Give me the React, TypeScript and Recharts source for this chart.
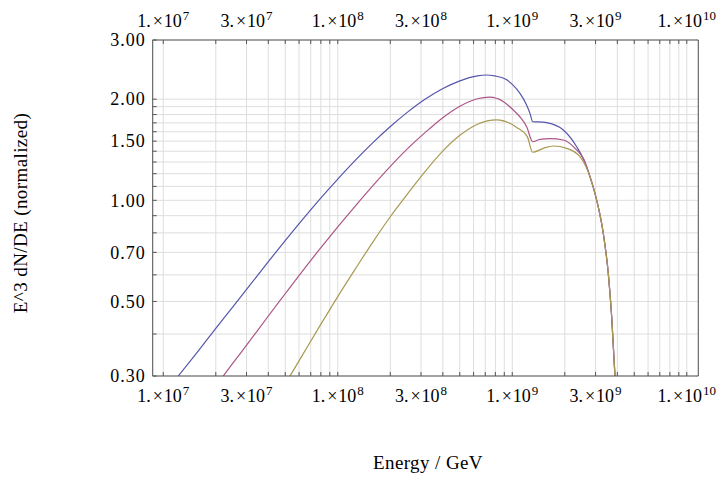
import React from 'react';
import { LineChart, Line, XAxis, YAxis, CartesianGrid, Label } from 'recharts';

// E (GeV) and E^3 dN/dE values, one pair of arrays per curve
const blueEnergy = [1.219e7, 1.585e7, 1.995e7, 2.512e7, 3.162e7, 3.981e7, 5.012e7, 6.31e7, 7.943e7, 1e8, 1.259e8, 1.585e8, 1.995e8, 2.512e8, 3.162e8, 3.981e8, 5.012e8, 6.31e8, 7.079e8, 7.943e8, 9.29e8, 1e9, 1.107e9, 1.202e9, 1.263e9, 1.309e9, 1.413e9, 1.575e9, 1.96e9, 2.339e9, 2.669e9, 2.788e9, 3.045e9, 3.322e9, 3.549e9, 3.712e9, 3.877e9];
const blueValue = [0.3, 0.356, 0.415, 0.483, 0.562, 0.655, 0.76, 0.879, 1.012, 1.157, 1.315, 1.483, 1.656, 1.83, 1.998, 2.148, 2.268, 2.345, 2.36, 2.345, 2.285, 2.213, 2.082, 1.932, 1.815, 1.713, 1.712, 1.702, 1.619, 1.444, 1.259, 1.176, 1.002, 0.798, 0.606, 0.45, 0.3];

const pinkEnergy = [2.207e7, 2.512e7, 3.162e7, 3.981e7, 5.012e7, 6.31e7, 7.943e7, 1e8, 1.259e8, 1.585e8, 1.995e8, 2.512e8, 3.162e8, 3.981e8, 5.012e8, 6.31e8, 7.413e8, 8.913e8, 1.013e9, 1.122e9, 1.209e9, 1.309e9, 1.441e9, 1.644e9, 1.96e9, 2.339e9, 2.552e9, 2.788e9, 3.045e9, 3.322e9, 3.549e9, 3.712e9, 3.877e9];
const pinkValue = [0.3, 0.328, 0.384, 0.451, 0.528, 0.618, 0.719, 0.833, 0.961, 1.104, 1.26, 1.425, 1.59, 1.759, 1.906, 2.006, 2.028, 1.966, 1.857, 1.756, 1.656, 1.494, 1.519, 1.527, 1.512, 1.412, 1.334, 1.176, 1.002, 0.798, 0.606, 0.45, 0.3];

const yellowEnergy = [5.323e7, 6.31e7, 7.943e7, 1e8, 1.259e8, 1.585e8, 1.995e8, 2.512e8, 3.162e8, 3.981e8, 5.012e8, 6.31e8, 8.128e8, 1.06e9, 1.219e9, 1.309e9, 1.506e9, 1.718e9, 2.05e9, 2.443e9, 2.788e9, 3.045e9, 3.322e9, 3.549e9, 3.712e9, 3.877e9];
const yellowValue = [0.3, 0.348, 0.425, 0.517, 0.624, 0.75, 0.892, 1.045, 1.217, 1.398, 1.561, 1.684, 1.736, 1.648, 1.547, 1.39, 1.428, 1.451, 1.428, 1.348, 1.176, 1.002, 0.798, 0.606, 0.45, 0.3];

// grid / tick positions
const xTicks = [1e7, 2e7, 3e7, 4e7, 5e7, 6e7, 7e7, 8e7, 9e7, 1e8, 2e8, 3e8, 4e8, 5e8, 6e8, 7e8, 8e8, 9e8, 1e9, 2e9, 3e9, 4e9, 5e9, 6e9, 7e9, 8e9, 9e9, 1e10];
const xLabelTicks = [1e7, 3e7, 1e8, 3e8, 1e9, 3e9, 1e10];
const yTicks = [0.3, 0.4, 0.5, 0.6, 0.7, 0.8, 0.9, 1.0, 1.1, 1.2, 1.3, 1.4, 1.5, 1.6, 1.7, 1.8, 1.9, 2.0, 3.0];
const yLabelTicks = [0.3, 0.5, 0.7, 1.0, 1.5, 2.0, 3.0];

const toRows = (es: number[], vs: number[]) => es.map((e, i) => ({ e, v: vs[i] }));
const blueData = toRows(blueEnergy, blueValue);
const pinkData = toRows(pinkEnergy, pinkValue);
const yellowData = toRows(yellowEnergy, yellowValue);

const FONT = '"Liberation Serif", "DejaVu Serif", serif';
const FRAME = '#555';
const X_DOMAIN = [8.7e6, 1.164e10];

const XTick = ({ x, y, payload, side }: any) => {
  const val = payload.value;
  if (!xLabelTicks.some((t) => Math.abs(t - val) / t < 1e-6)) return null;
  const exp = Math.round(Math.log10(val));
  const mant = Math.round(val / Math.pow(10, exp));
  const baseY = side === 'top' ? y - 17 : y + 30;
  return (
    <text x={x} y={baseY} textAnchor="middle" fontFamily={FONT} fontSize={18} fill="#000">
      <tspan>{mant}.</tspan>
      <tspan dx={2}>×</tspan>
      <tspan dx={1}>10</tspan>
      <tspan dx={1} dy={-7} fontSize={13}>{exp}</tspan>
    </text>
  );
};

const YTick = ({ x, y, payload }: any) => {
  const val = payload.value;
  if (!yLabelTicks.some((t) => Math.abs(t - val) < 1e-6)) return null;
  return (
    <text x={x} y={y} dy="0.35em" textAnchor="end" fontFamily={FONT} fontSize={18} letterSpacing={1} fill="#000">
      {val.toFixed(2)}
    </text>
  );
};

const App: React.FC = () => {
  return (
    <LineChart width={717} height={474} margin={{ top: 0, right: 0, bottom: 0, left: 0 }}>
      <CartesianGrid stroke="#dedede" strokeWidth={1} />
      <XAxis
        xAxisId={0}
        dataKey="e"
        type="number"
        scale="log"
        domain={X_DOMAIN}
        allowDataOverflow
        ticks={xTicks}
        interval={0}
        orientation="bottom"
        height={106}
        tickSize={-4}
        tickMargin={0}
        tick={<XTick side="bottom" />}
        stroke={FRAME}
      >
        <Label
          content={() => (
            <text x={420} y={454} textAnchor="middle" dominantBaseline="central" fontFamily={FONT} fontSize={19} letterSpacing={0.4} fill="#000">
              Energy / GeV
            </text>
          )}
        />
      </XAxis>
      <XAxis
        xAxisId="top"
        dataKey="e"
        type="number"
        scale="log"
        domain={X_DOMAIN}
        allowDataOverflow
        ticks={xTicks}
        interval={0}
        orientation="top"
        height={32}
        tickSize={-4}
        tickMargin={0}
        tick={<XTick side="top" />}
        stroke={FRAME}
      />
      <YAxis
        yAxisId={0}
        type="number"
        scale="log"
        domain={[0.3, 3]}
        allowDataOverflow
        ticks={yTicks}
        interval={0}
        orientation="left"
        width={144.7}
        tickSize={-4}
        tickMargin={11}
        tick={<YTick />}
        stroke={FRAME}
      >
        <Label
          content={() => (
            <text
              x={12}
              y={205}
              transform="rotate(-90 12 205)"
              textAnchor="middle"
              dominantBaseline="central"
              fontFamily={FONT}
              fontSize={19}
              letterSpacing={0.4}
              fill="#000"
            >
              E^3 dN/DE (normalized)
            </text>
          )}
        />
      </YAxis>
      <YAxis
        yAxisId="right"
        type="number"
        scale="log"
        domain={[0.3, 3]}
        allowDataOverflow
        ticks={yTicks}
        interval={0}
        orientation="right"
        width={26.7}
        tickSize={-4}
        tick={false}
        stroke={FRAME}
      />
      <Line data={blueData} dataKey="v" type="monotone" stroke="#5656ac" strokeWidth={1.2} dot={false} isAnimationActive={false} />
      <Line data={pinkData} dataKey="v" type="monotone" stroke="#ac5688" strokeWidth={1.2} dot={false} isAnimationActive={false} />
      <Line data={yellowData} dataKey="v" type="monotone" stroke="#a89a52" strokeWidth={1.2} dot={false} isAnimationActive={false} />
    </LineChart>
  );
};

export default App;
